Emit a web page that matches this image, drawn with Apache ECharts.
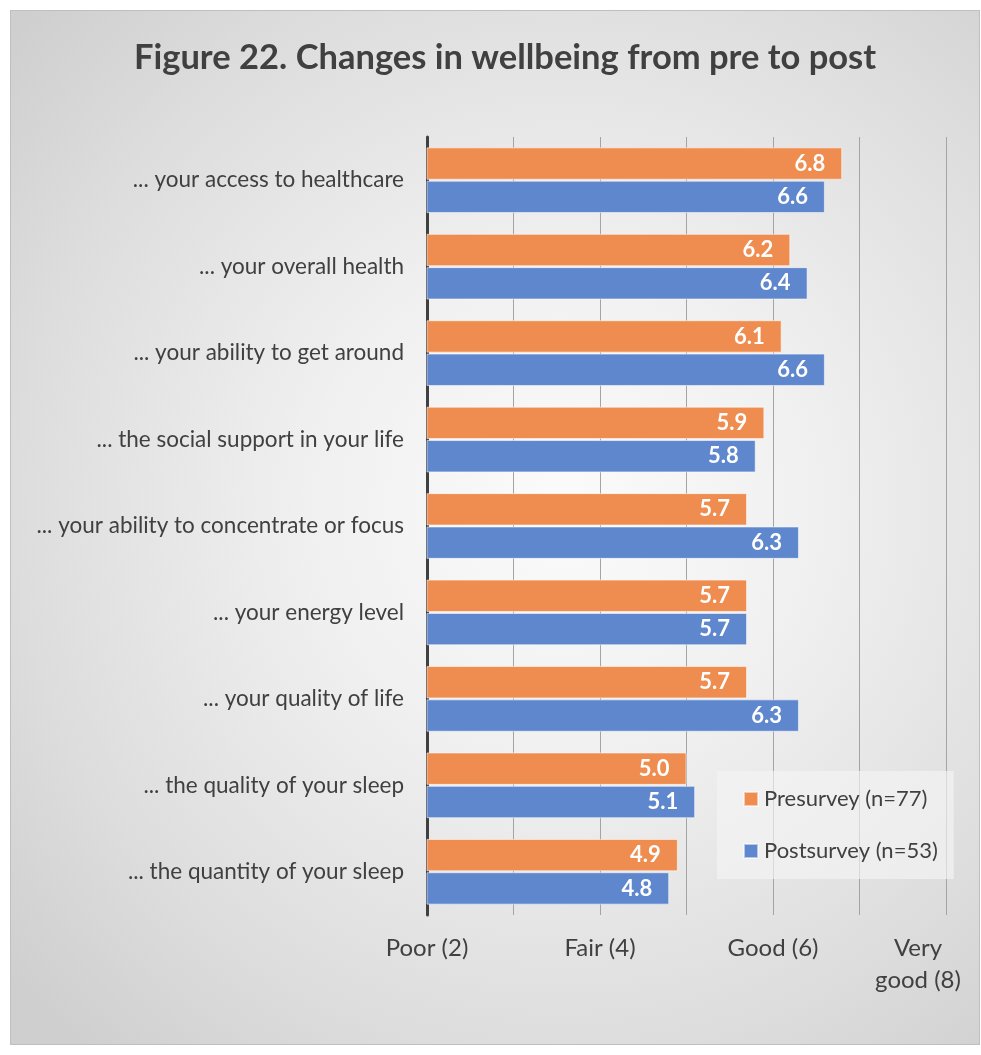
<!DOCTYPE html>
<html>
<head>
<meta charset="utf-8">
<script src="https://cdn.jsdelivr.net/npm/echarts@6/dist/echarts.min.js"></script>
<style>
  html, body { margin: 0; padding: 0; background: #ffffff; }
  #bg { position: absolute; left: 10px; top: 10px; width: 968px; height: 1033px;
        border: 1px solid #bfbfbf;
        background: radial-gradient(ellipse 75% 70% at 57% 48%, #fbfbfb 0%, #f0f0f0 35%, #dddddd 75%, #cfcfcf 100%); }
  #chart { position: absolute; left: 0; top: 0; width: 981px; height: 1055px; }
</style>
</head>
<body>
<div id="bg"></div>
<div id="chart"></div>
<script>
const categories = [
  '... your access to healthcare',
  '... your overall health',
  '... your ability to get around',
  '... the social support in your life',
  '... your ability to concentrate or focus',
  '... your energy level',
  '... your quality of life',
  '... the quality of your sleep',
  '... the quantity of your sleep'
];
const preValues = [6.8, 6.2, 6.1, 5.9, 5.7, 5.7, 5.7, 5.0, 4.9];
const postValues = [6.6, 6.4, 6.6, 5.8, 6.3, 5.7, 6.3, 5.1, 4.8];
const seriesNames = ['Presurvey (n=77)', 'Postsurvey (n=53)'];
const tickLabels = { 2: 'Poor (2)', 4: 'Fair (4)', 6: 'Good (6)', 8: 'Very good (8)' };

const FONT = 'Lato, "Open Sans", sans-serif';
const chart = echarts.init(document.getElementById('chart'), null, { renderer: 'canvas' });

const labelStyle = {
  show: true,
  position: 'insideRight',
  distance: 17,
  color: '#ffffff',
  fontFamily: FONT,
  fontWeight: 'bold',
  fontSize: 22,
  formatter: p => p.value.toFixed(1)
};

chart.setOption({
  backgroundColor: 'transparent',
  animation: false,
  title: {
    text: 'Figure 22. Changes in wellbeing from pre to post',
    left: 500,
    top: 35,
    textAlign: 'center',
    textStyle: { fontFamily: FONT, fontWeight: 'bold', fontSize: 34.5, color: '#404040' }
  },
  legend: {
    orient: 'vertical',
    left: 717,
    top: 771,
    padding: [17, 16, 17, 26],
    itemGap: 30,
    itemWidth: 14,
    itemHeight: 14,
    icon: 'rect',
    backgroundColor: 'rgba(245,245,245,0.65)',
    textStyle: { fontFamily: FONT, fontSize: 22, color: '#404040', padding: [0, 0, 0, 1] },
    data: seriesNames
  },
  grid: { left: 427, right: 35, top: 137, bottom: 140, containLabel: false, outerBoundsMode: 'none' },
  xAxis: {
    type: 'value',
    min: 2,
    max: 8,
    interval: 1,
    axisLine: { show: false },
    axisTick: { show: false },
    splitLine: { show: true, lineStyle: { color: '#a4a4a4', width: 1 } },
    axisLabel: {
      margin: 17,
      fontFamily: FONT,
      fontSize: 24,
      color: '#404040',
      lineHeight: 32,
      formatter: v => {
        if (v === 8) return '{vg|Very}\n{vg|good (8)}';
        return tickLabels[v] || '';
      },
      rich: {
        vg: { fontFamily: FONT, fontSize: 24, color: '#404040', width: 100, align: 'center', lineHeight: 32, padding: [0, 56, 0, 0] }
      }
    }
  },
  yAxis: {
    type: 'category',
    inverse: true,
    data: categories,
    axisLine: { show: true, lineStyle: { color: '#404040', width: 3 } },
    axisTick: { show: false },
    axisLabel: { margin: 23, fontFamily: FONT, fontSize: 22.5, color: '#404040' }
  },
  series: [
    {
      name: seriesNames[0],
      type: 'bar',
      data: preValues,
      barCategoryGap: '24%',
      barGap: '3%',
      itemStyle: { color: '#EE8D4F', borderColor: 'rgba(255,255,255,0.55)', borderWidth: 1 },
      label: labelStyle
    },
    {
      name: seriesNames[1],
      type: 'bar',
      data: postValues,
      barCategoryGap: '24%',
      barGap: '3%',
      itemStyle: { color: '#5E87CD', borderColor: 'rgba(255,255,255,0.55)', borderWidth: 1 },
      label: labelStyle
    }
  ]
});
</script>
</body>
</html>
